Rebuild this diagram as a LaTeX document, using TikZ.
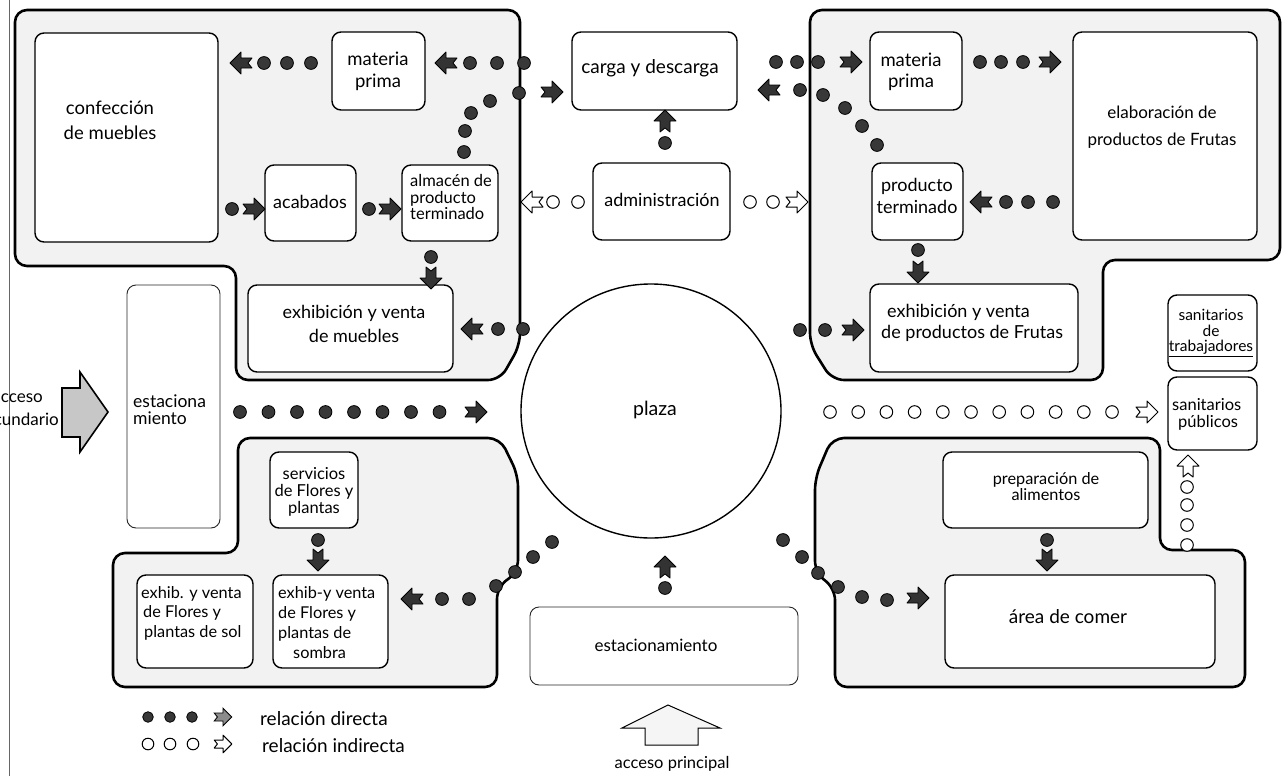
\documentclass[tikz,border=0pt]{standalone}
\usepackage{fontspec}
\setmainfont{Lato}
\usetikzlibrary{shapes.geometric}
\newcommand\dotF[2]{\filldraw[dotf] (#1,#2) circle (6.4);}
\newcommand\dotO[2]{\draw[doto] (#1,#2) circle (6.3);}
\newcommand\arF[3]{\pic[rotate=#3, arrf] at (#1,#2) {arrsh};}
\newcommand\arO[3]{\pic[rotate=#3, arro] at (#1,#2) {arrsh};}
\newcommand\fs[2]{\fontsize{#1}{#2}\selectfont}
\tikzset{
  arrsh/.pic={\path[pic actions] (11,0) -- (0,-11) -- (0,-5) -- (-11,-5) -- (-7,0) -- (-11,5) -- (0,5) -- (0,11) -- cycle;},
  dotf/.style={fill=black!78, draw=black, line width=0.8pt},
  doto/.style={draw=black, fill=white, line width=1pt},
  arrf/.style={fill=black!80, draw=black, line width=0.8pt, line join=round},
  arro/.style={fill=white, draw=black, line width=1pt, line join=round},
  zone/.style={draw=black, line width=2.6pt, fill=black!5, rounded corners=12pt, line join=round},
  boxst/.style={draw=black, line width=1.4pt, fill=white, rounded corners=9pt},
  thinbox/.style={draw=black!85, line width=0.9pt, fill=white, rounded corners=9pt},
  lbl/.style={font=\fs{18}{22}, align=center, inner sep=0pt},
}
\begin{document}
\begin{tikzpicture}[x=1pt,y=-1pt]
\clip (0,0) rectangle (1284,776);
\fill[white] (0,0) rectangle (1284,776);
\draw[black!60, line width=0.8pt] (9,0) -- (9,776);

% zones
\draw[zone] (15,10) -- (520,10) -- (520,345) -- (500,380) -- (236,380) -- (236,266) -- (15,266) -- cycle;
\draw[zone] (810,10) -- (1280,10) -- (1280,260) -- (1103,260) -- (1103,380) -- (832,380) -- (810,345) -- cycle;
\draw[zone] (238,438) -- (500,438) -- (518,475) -- (518,572) -- (497,587) -- (497,687) -- (113,687) -- (113,553) -- (238,553) -- cycle;
\draw[zone] (832,438) -- (1160,438) -- (1160,550) -- (1245,550) -- (1245,687) -- (835,687) -- (835,588) -- (815,573) -- (815,478) -- cycle;

% boxes
\draw[boxst] (35,33) rectangle (218,242);
\draw[boxst] (332,32) rectangle (425,110);
\draw[boxst] (265,165) rectangle (356,241);
\draw[boxst] (402,165) rectangle (498,241);
\draw[boxst] (248,285) rectangle (453,372);
\draw[boxst] (572,32) rectangle (737,110);
\draw[boxst] (593,163) rectangle (730,240);
\draw[boxst] (870,32) rectangle (962,110);
\draw[boxst] (1073,32) rectangle (1257,240);
\draw[boxst] (872,163) rectangle (963,240);
\draw[boxst] (870,284) rectangle (1078,372);
\draw[thinbox] (127,285) rectangle (220,528);
\draw[boxst] (1168,295) rectangle (1257,371);
\draw[boxst] (1168,377) rectangle (1257,450);
\draw[boxst] (270,452) rectangle (358,528);
\draw[boxst] (137,575) rectangle (253,668);
\draw[boxst] (273,575) rectangle (388,668);
\draw[boxst] (943,452) rectangle (1148,528);
\draw[boxst] (945,575) rectangle (1215,668);
\draw[thinbox] (530,607) rectangle (798,685);
\node[draw, ellipse, line width=1.4pt, minimum width=260pt, minimum height=254pt, inner sep=0pt] (plaza) at (651,411) {};

% texts
\node[lbl, font=\fs{18.5}{25}] (tconf) at (110,120) {confección\\de muebles};
\node[lbl, font=\fs{18.5}{22}] (tmpL) at (378,71) {materia\\prima};
\node[lbl] (tacab) at (310,202) {acabados};
\node[lbl, font=\fs{16.5}{16.5}, align=left] (talm) at (451,197) {almacén de\\producto\\terminado};
\node[lbl, font=\fs{18}{24}] (texm) at (354,324) {exhibición y venta\\de muebles};
\node[lbl, font=\fs{19}{22}] (tcarga) at (650,68) {carga y descarga};
\node[lbl] (tadm) at (662,200) {administración};
\node[lbl, font=\fs{18.5}{21}] (tmpR) at (911,72) {materia\\prima};
\node[lbl, font=\fs{17}{27}] (telab) at (1162,127) {elaboración de\\productos de Frutas};
\node[lbl, font=\fs{18}{22}] (tprod) at (917,196) {producto\\terminado};
\node[lbl, font=\fs{18}{21}, align=left, anchor=west] (texf) at (881,323) {\hspace{6pt}exhibición y venta\\de productos de Frutas};
\node[lbl, font=\fs{17.5}{17}, align=left, anchor=west] (test1) at (133,410) {estaciona\\miento};
\node[lbl, font=\fs{19.5}{22}] (tplaza) at (655,410) {plaza};
\node[lbl, font=\fs{15.5}{15.5}] (tsanT) at (1211,333) {sanitarios\\de\\\underline{trabajadores}};
\node[lbl, font=\fs{16.5}{17}, align=left, anchor=west] (tsanP) at (1172,414) {sanitarios\\\hspace{6pt}públicos};
\node[lbl, font=\fs{16.5}{17}] (tserv) at (314,492) {servicios\\de Flores y\\plantas};
\node[lbl, font=\fs{16.3}{19.5}, align=left, anchor=west] (tsol) at (141,613) {exhib. y venta\\\hspace{2pt}de Flores y\\\hspace{3pt}plantas de sol};
\node[lbl, font=\fs{16.3}{20}, align=left, anchor=west] (tsomb) at (278,623) {exhib-y venta\\de Flores y\\plantas de\\\hspace{15pt}sombra};
\node[lbl, font=\fs{16.3}{16}] (tprep) at (1046,487) {preparación de\\alimentos};
\node[lbl, font=\fs{19}{22}] (tarea) at (1068,617) {área de comer};
\node[lbl, font=\fs{17}{22}] (test2) at (656,645) {estacionamiento};
\node[lbl, font=\fs{16.5}{22}] (tacP) at (672,764) {acceso principal};
\node[lbl, anchor=east, font=\fs{17}{22}] (tacS1) at (43,398) {acceso};
\node[lbl, anchor=east, font=\fs{17}{22}] (tacS2) at (59,419) {secundario};

% access arrows
\draw[line width=1.6pt, fill=black!22, line join=miter] (62,388) -- (80,388) -- (80,372) -- (108,412) -- (80,452) -- (80,437) -- (62,437) -- cycle;
\draw[line width=1pt, fill=black!4] (645,745) -- (645,728) -- (622,728) -- (668,705) -- (720,728) -- (698,728) -- (698,745) -- cycle;

% TL chains
\dotF{311}{63}\dotF{287}{63}\dotF{264}{63}\arF{241}{63}{180}
\dotF{524}{63}\dotF{497}{63}\dotF{470}{63}\arF{446}{63}{180}
\dotF{464}{152}\dotF{465}{131}\dotF{471}{113}\dotF{490}{101}\dotF{519}{93}\arF{552}{92}{0}
\dotF{232}{209}\arF{254}{209}{0}
\dotF{369}{209}\arF{390}{209}{0}
\dotF{431}{257}\arF{431}{278}{-90}
\dotF{523}{329}\dotF{498}{329}\arF{472}{329}{180}
% centre
\dotF{665}{143}\arF{665}{121}{90}
\dotO{578}{202}\dotO{553}{202}\arO{532}{202}{180}
\dotO{750}{202}\dotO{773}{202}\arO{797}{202}{0}
% TR chains
\dotF{776}{62}\dotF{797}{62}\dotF{818}{62}\arF{851}{62}{0}
\dotF{980}{62}\dotF{1001}{62}\dotF{1023}{62}\arF{1050}{62}{0}
\dotF{877}{145}\dotF{862}{126}\dotF{845}{108}\dotF{823}{95}\dotF{800}{90}\arF{769}{90}{180}
\dotF{1053}{202}\dotF{1028}{202}\dotF{1006}{202}\arF{981}{202}{180}
\dotF{918}{250}\arF{918}{272}{-90}
\dotF{800}{330}\dotF{825}{330}\arF{853}{330}{0}
% middle
\foreach \i in {0,...,7} {\dotF{240+28.5*\i}{412}}
\arF{476}{412}{0}
\foreach \i in {0,...,10} {\dotO{830+28.2*\i}{412}}
\arO{1147}{412}{0}
\dotO{1187}{545}\dotO{1187}{525}\dotO{1187}{505}\dotO{1187}{487}\arO{1188}{466}{90}
% bottom
\dotF{552}{542}\dotF{533}{557}\dotF{515}{572}\dotF{496}{586}\dotF{469}{599}\dotF{442}{599}\arF{412}{599}{180}
\dotF{318}{540}\arF{318}{560}{-90}
\dotF{665}{588}\arF{665}{567}{90}
\dotF{783}{540}\dotF{802}{557}\dotF{818}{573}\dotF{838}{587}\dotF{862}{597}\dotF{887}{600}\arF{918}{598}{0}
\dotF{1047}{540}\arF{1047}{560}{-90}

% legend
\filldraw[dotf] (148,717) circle (5.3); \filldraw[dotf] (170,717) circle (5.3); \filldraw[dotf] (192,717) circle (5.3);
\pic[scale=0.8, fill=black!45, draw=black, line width=0.8pt] at (223,717) {arrsh};
\node[lbl, anchor=west, font=\fs{19}{22}] (leg1) at (260,719) {relación directa};
\draw[doto] (148,744) circle (5.8); \draw[doto] (170,744) circle (5.8); \draw[doto] (193,744) circle (5.8);
\pic[scale=0.8, arro] at (223,744) {arrsh};
\node[lbl, anchor=west, font=\fs{19}{22}] (leg2) at (262,746) {relación indirecta};
\end{tikzpicture}
\end{document}
